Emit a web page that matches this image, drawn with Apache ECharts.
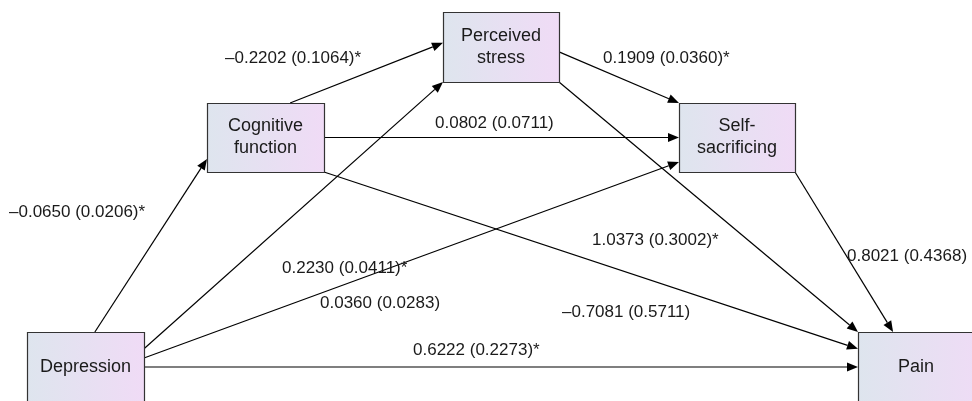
<!DOCTYPE html>
<html><head><meta charset="utf-8">
<script src="https://cdn.jsdelivr.net/npm/echarts@6/dist/echarts.min.js"></script>
<style>html,body{margin:0;padding:0;background:#fff}#c{width:972px;height:401px}</style>
</head><body><div id="c"></div>
<script>
// ---- data ----
const nodeNames = ['Depression', 'Cognitive\nfunction', 'Perceived\nstress', 'Self-\nsacrificing', 'Pain'];
const pathFrom = [0, 0, 0, 0, 1, 1, 1, 2, 2, 3];
const pathTo   = [1, 2, 3, 4, 2, 3, 4, 3, 4, 4];
const pathCoef = ['\u20130.0650', '0.2230', '0.0360', '0.6222', '\u20130.2202', '0.0802', '\u20130.7081', '0.1909', '1.0373', '0.8021'];
const pathSE   = ['0.0206', '0.0411', '0.0283', '0.2273', '0.1064', '0.0711', '0.5711', '0.0360', '0.3002', '0.4368'];
const pathSig  = [true, true, false, true, true, false, false, true, true, false];

// ---- layout (diagram geometry, separate from data) ----
const W = 972, H = 401;
const boxes = [[27, 332, 117, 80], [207, 103, 117, 69], [443, 12, 116, 70], [679, 103, 116, 69], [858, 332, 130, 80]];
const edgeAnchors = [
  [['top', 0.58], ['left', 0.81]],
  [['right', 0.21], ['bottom', 0]],
  [['right', 0.325], ['left', 0.855]],
  [['right', 0.4375], ['left', 0.4375]],
  [['top', 0.71], ['left', 0.44]],
  [['right', 0.5], ['left', 0.5]],
  [['right', 1], ['left', 0.21]],
  [['right', 0.57], ['top', 0]],
  [['bottom', 1], ['top', 0]],
  [['bottom', 1], ['top', 0.27]]
];
const labelPos = [[9, 212], [282, 268], [320, 303], [413, 350], [225, 58], [435, 123], [562, 312], [603, 58], [592, 240], [847, 256]];
const FONT = '17px Arial, "Liberation Sans", sans-serif';

function anchor(b, side, f) {
  const [x, y, w, h] = boxes[b];
  if (side === 'top') return [x + w * f, y];
  if (side === 'bottom') return [x + w * f, y + h];
  if (side === 'left') return [x, y + h * f];
  return [x + w, y + h * f];
}

const chart = echarts.init(document.getElementById('c'));
chart.setOption({
  animation: false,
  grid: { left: 0, right: 0, top: 0, bottom: 0 },
  xAxis: { type: 'value', min: 0, max: W, show: false },
  yAxis: { type: 'value', min: 0, max: H, inverse: true, show: false },
  series: [
    {
      type: 'custom', coordinateSystem: 'cartesian2d', z: 1, clip: false,
      data: pathFrom.map((f, i) => [i]),
      renderItem(params, api) {
        const i = api.value(0);
        const p1 = api.coord(anchor(pathFrom[i], ...edgeAnchors[i][0]));
        const p2 = api.coord(anchor(pathTo[i], ...edgeAnchors[i][1]));
        const dx = p2[0] - p1[0], dy = p2[1] - p1[1], L = Math.hypot(dx, dy);
        const ux = dx / L, uy = dy / L, al = 11, aw = 4.5;
        const bx = p2[0] - ux * al, by = p2[1] - uy * al;
        return {
          type: 'group', children: [
            { type: 'line', shape: { x1: p1[0], y1: p1[1], x2: bx, y2: by }, style: { stroke: '#000', lineWidth: 1.2 } },
            { type: 'polygon', shape: { points: [p2, [bx - uy * aw, by + ux * aw], [bx + uy * aw, by - ux * aw]] }, style: { fill: '#000' } }
          ]
        };
      }
    },
    {
      type: 'custom', coordinateSystem: 'cartesian2d', z: 2, clip: false,
      data: nodeNames.map((n, i) => [i]),
      renderItem(params, api) {
        const i = api.value(0);
        const [x, y, w, h] = boxes[i];
        const a = api.coord([x, y]), b = api.coord([x + w, y + h]);
        const ty = (i === 0 || i === 4) ? api.coord([0, y + 35])[1] : (a[1] + b[1]) / 2;
        return {
          type: 'group', children: [
            {
              type: 'rect', shape: { x: a[0] + 0.5, y: a[1] + 0.5, width: b[0] - a[0], height: b[1] - a[1] },
              style: {
                fill: new echarts.graphic.LinearGradient(0, 0, 1, 0, [{ offset: 0, color: '#dee5ee' }, { offset: 1, color: '#f0dbf6' }]),
                stroke: '#333', lineWidth: 1.2
              }
            },
            {
              type: 'text', z2: 10,
              style: { text: nodeNames[i], x: (i === 4 ? api.coord([x + 58, 0])[0] : (a[0] + b[0]) / 2), y: ty, align: 'center', verticalAlign: 'middle', font: '18px Arial, "Liberation Sans", sans-serif', lineHeight: 22, fill: '#1a1a1a' }
            }
          ]
        };
      }
    },
    {
      type: 'custom', coordinateSystem: 'cartesian2d', z: 3, clip: false,
      data: pathCoef.map((c, i) => [i]),
      renderItem(params, api) {
        const i = api.value(0);
        const p = api.coord(labelPos[i]);
        return {
          type: 'text',
          style: { text: pathCoef[i] + ' (' + pathSE[i] + ')' + (pathSig[i] ? '*' : ''), x: p[0], y: p[1], align: 'left', verticalAlign: 'middle', font: FONT, fill: '#1a1a1a' }
        };
      }
    }
  ]
});
</script></body></html>
